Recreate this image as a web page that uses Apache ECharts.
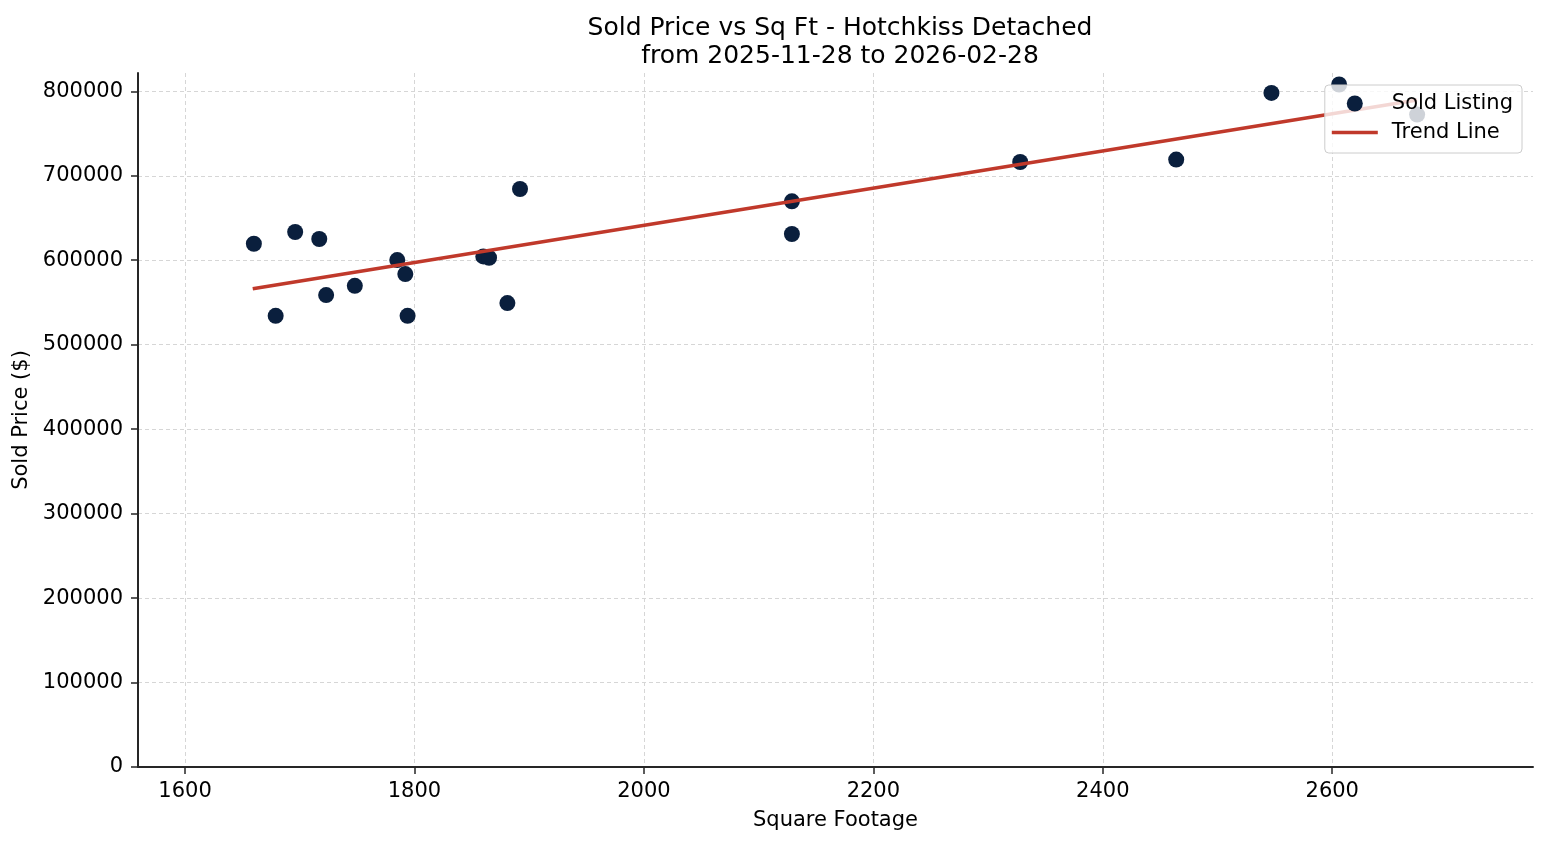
<!DOCTYPE html>
<html>
<head>
<meta charset="utf-8">
<title>Sold Price vs Sq Ft</title>
<script src="https://cdn.jsdelivr.net/npm/echarts@6/dist/echarts.min.js"></script>
<style>
  html, body { margin: 0; padding: 0; background: #fff; }
  #chart { width: 1547px; height: 845px; }
</style>
</head>
<body>
<div id="chart"></div>
<script>
// values
var sqft = [1660, 1679, 1696, 1717, 1723, 1748, 1785, 1792, 1794, 1860, 1865, 1881, 1892,
            2129, 2129, 2328, 2464, 2547, 2606, 2674];
var price = [619500, 534200, 633400, 625100, 558700, 569700, 600200, 583600, 534200, 604500,
             602900, 549200, 684300, 669700, 631000, 716300, 719100, 798100, 808000, 772400];

// trend line end points
var trendX = [1659, 2674];
var trendY = [566300, 789600];

var xTicks = [1600, 1800, 2000, 2200, 2400, 2600];
var yTicks = [0, 100000, 200000, 300000, 400000, 500000, 600000, 700000, 800000];

var points = sqft.map(function (v, i) { return [v, price[i]]; });
var trend = trendX.map(function (v, i) { return [v, trendY[i]]; });

var font = 'DejaVu Sans';
var plain = function (v) { return String(v); };

var option = {
    animation: false,
    backgroundColor: '#ffffff',
    textStyle: { fontFamily: font },
    title: {
        text: 'Sold Price vs Sq Ft - Hotchkiss Detached\nfrom 2025-11-28 to 2026-02-28',
        left: 835,
        textAlign: 'center',
        top: 9,
        textStyle: {
            fontFamily: font,
            fontSize: 25,
            fontWeight: 'normal',
            color: '#000',
            lineHeight: 28
        }
    },
    legend: {
        orient: 'vertical',
        right: 25,
        top: 85,
        padding: [8, 9, 10, 7],
        itemGap: 8,
        itemWidth: 46,
        itemHeight: 16,
        backgroundColor: 'rgba(255,255,255,0.8)',
        borderColor: '#cccccc',
        borderWidth: 1,
        borderRadius: 4,
        textStyle: { fontFamily: font, fontSize: 21, color: '#000', padding: [0, 0, 0, 9] },
        data: [
            { name: 'Sold Listing', icon: 'circle' },
            { name: 'Trend Line', icon: 'path://M0,0L46,0L46,3.5L0,3.5Z' }
        ]
    },
    grid: { left: 138, right: 14, top: 73, bottom: 78 },
    xAxis: {
        type: 'value',
        min: 1559,
        max: 2775,
        name: 'Square Footage',
        nameLocation: 'middle',
        nameGap: 43,
        nameTextStyle: { fontFamily: font, fontSize: 21, color: '#000' },
        axisLine: { lineStyle: { color: '#262626', width: 2 } },
        axisTick: { show: true, length: 7, lineStyle: { color: '#262626', width: 1.5 }, customValues: xTicks },
        axisLabel: { fontFamily: font, fontSize: 21, color: '#000', margin: 14, formatter: plain, customValues: xTicks },
        splitLine: { show: true, lineStyle: { color: '#d6d6d6', width: 1, type: [4, 3] } }
    },
    yAxis: {
        type: 'value',
        min: 0,
        max: 821650,
        name: 'Sold Price ($)',
        nameLocation: 'middle',
        nameGap: 101,
        nameTextStyle: { fontFamily: font, fontSize: 21, color: '#000' },
        axisLine: { show: true, lineStyle: { color: '#262626', width: 2 } },
        axisTick: { show: true, length: 7, lineStyle: { color: '#262626', width: 1.5 }, customValues: yTicks },
        axisLabel: { fontFamily: font, fontSize: 21, color: '#000', margin: 15, formatter: plain, customValues: yTicks },
        splitLine: { show: true, lineStyle: { color: '#d6d6d6', width: 1, type: [4, 3] } }
    },
    series: [
        {
            name: 'Sold Listing',
            type: 'scatter',
            symbol: 'circle',
            symbolSize: 16,
            itemStyle: { color: '#0a1f3d', opacity: 1 },
            data: points
        },
        {
            name: 'Trend Line',
            type: 'line',
            showSymbol: false,
            symbol: 'none',
            lineStyle: { color: '#c0392b', width: 3.5 },
            itemStyle: { color: '#c0392b' },
            data: trend
        }
    ]
};

var myChart = echarts.init(document.getElementById('chart'));
myChart.setOption(option);
</script>
</body>
</html>
